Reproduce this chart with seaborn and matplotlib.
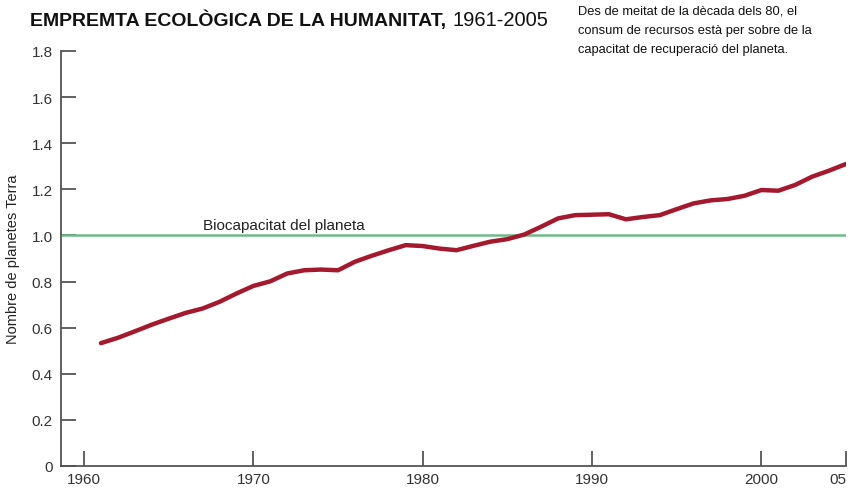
import matplotlib
matplotlib.use('Agg')
import seaborn as sns
import numpy as np
import pandas as pd
import matplotlib.pyplot as plt

# Petjada ecològica (nombre de planetes Terra), llegida del gràfic
anys = list(range(1961, 2006))
empremta = [0.533, 0.556, 0.584, 0.613, 0.639, 0.664, 0.683, 0.712, 0.748, 0.781,
            0.801, 0.835, 0.849, 0.852, 0.849, 0.886, 0.912, 0.936, 0.958, 0.954,
            0.943, 0.936, 0.955, 0.973, 0.984, 1.004, 1.038, 1.074, 1.088, 1.090,
            1.092, 1.070, 1.080, 1.088, 1.114, 1.139, 1.152, 1.158, 1.172, 1.197,
            1.194, 1.219, 1.255, 1.281, 1.310]
biocapacitat = 1.0
xticks = [1960, 1970, 1980, 1990, 2000, 2005]
xticklabels = ['1960', '1970', '1980', '1990', '2000', '05']
yticks = [0, 0.2, 0.4, 0.6, 0.8, 1.0, 1.2, 1.4, 1.6, 1.8]
yticklabels = ['0', '0.2', '0.4', '0.6', '0.8', '1.0', '1.2', '1.4', '1.6', '1.8']

df = pd.DataFrame({'any': anys, 'empremta': empremta})

sns.set_style('white')
plt.rcParams['font.family'] = ['Liberation Sans', 'DejaVu Sans']

fig = plt.figure(figsize=(8.49, 4.89), dpi=100)
ax = fig.add_axes([61 / 849, 1 - 467 / 489, (846 - 61) / 849, (467 - 52) / 489])

ax.axhline(biocapacitat, color='#6dbb8a', lw=1.8, zorder=1)
sns.lineplot(data=df, x='any', y='empremta', ax=ax, color='#a5192f', lw=3.2, zorder=2)

ax.set_xlim(1958.64, 2005)
ax.set_ylim(0, 1.8)
ax.set_xticks(xticks)
ax.set_xticklabels(xticklabels)
ax.set_yticks(yticks)
ax.set_yticklabels(yticklabels)
ax.set_xlabel('')
ax.set_ylabel('Nombre de planetes Terra', fontsize=10.5, color='#222222', labelpad=8)

for s in ['top', 'right']:
    ax.spines[s].set_visible(False)
for s in ['left', 'bottom']:
    ax.spines[s].set_color('#555555')
    ax.spines[s].set_linewidth(1.3)
ax.tick_params(axis='both', direction='in', length=11, width=1.3, color='#555555',
               labelsize=11, labelcolor='#333333', bottom=True, left=True)
ax.tick_params(axis='x', pad=4)
ax.tick_params(axis='y', pad=6)
ax.get_xticklabels()[-1].set_ha('right')

ax.text(1967.0, 1.015, 'Biocapacitat del planeta', fontsize=11, color='#222222',
        ha='left', va='bottom')

t1 = fig.text(30 / 849, 1 - 20 / 489, 'EMPREMTA ECOLÒGICA DE LA HUMANITAT,', fontsize=14,
              fontweight='bold', color='#111111', ha='left', va='center')
fig.canvas.draw()
bb = t1.get_window_extent()
fig.text((bb.x1 + 6) / 849, 1 - 20 / 489, '1961-2005', fontsize=14.5,
         color='#111111', ha='left', va='center')
fig.text(578 / 849, 1 - 6 / 489,
         'Des de meitat de la dècada dels 80, el\nconsum de recursos està per sobre de la\ncapacitat de recuperació del planeta.',
         fontsize=9.3, color='#111111', ha='left', va='top', linespacing=1.75)

fig.savefig('out.png', dpi=100, facecolor='white')
